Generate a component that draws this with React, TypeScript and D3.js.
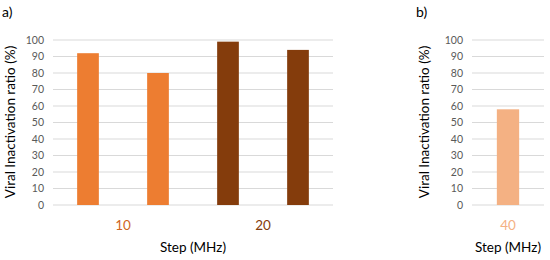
import * as d3 from "d3";

const groupsA = ["10", "20"];
const valuesA = [
  [92, 80],
  [99, 94],
];
const groupsB = ["40"];
const valuesB = [[58]];
const yTicks = [0, 10, 20, 30, 40, 50, 60, 70, 80, 90, 100];

const colorsA = ["#ED7D31", "#843C0C"];
const colorsB = ["#F4B183"];
const labelColorsA = ["#D0661E", "#843C0C"];
const labelColorsB = ["#F4B183"];

const font = "Lato, 'Open Sans', sans-serif";

function Panel({ groups, values, colors, labelColors, x0, x1, label, labelX, titleX }) {
  const y = d3.scaleLinear().domain([0, 100]).range([205, 40]);
  const xg = d3.scaleBand().domain(groups).range([x0, x1]).padding(0);
  const xi = d3
    .scaleBand()
    .domain(d3.range(values[0].length).map(String))
    .range([0, xg.bandwidth()])
    .paddingInner(0.69)
    .paddingOuter(0.345);

  return (
    <g>
      <text x={labelX} y={17} fontSize={14} fontFamily={font} fill="#000">
        {label}
      </text>
      {yTicks.map((t) => (
        <g key={t}>
          <line x1={x0} x2={x1} y1={y(t)} y2={y(t)} stroke="#D9D9D9" strokeWidth={1} />
          <text
            x={x0 - 9}
            y={y(t)}
            dy="0.35em"
            textAnchor="end"
            fontSize={10.5}
            fontFamily={font}
            fill="#595959"
          >
            {t}
          </text>
        </g>
      ))}
      {groups.map((g, gi) => (
        <g key={g}>
          {values[gi].map((v, i) => (
            <rect
              key={i}
              x={xg(g) + xi(String(i))}
              y={y(v)}
              width={xi.bandwidth()}
              height={y(0) - y(v)}
              fill={colors[gi]}
            />
          ))}
          <text
            x={xg(g) + xg.bandwidth() / 2}
            y={230}
            textAnchor="middle"
            fontSize={13.5}
            fontFamily={font}
            fill={labelColors[gi]}
          >
            {g}
          </text>
        </g>
      ))}
      <text
        x={(x0 + x1) / 2}
        y={252}
        textAnchor="middle"
        fontSize={13.5}
        fontFamily={font}
        fill="#000"
      >
        Step (MHz)
      </text>
      <text
        transform={`translate(${titleX},${122}) rotate(-90)`}
        textAnchor="middle"
        fontSize={13.5}
        fontFamily={font}
        fill="#000"
      >
        Viral Inactivation ratio (%)
      </text>
    </g>
  );
}

export default function App() {
  return (
    <svg width={550} height={260} style={{ position: "absolute", left: 0, top: 0, background: "#fff" }}>
      <Panel
        groups={groupsA}
        values={valuesA}
        colors={colorsA}
        labelColors={labelColorsA}
        x0={53}
        x1={333}
        label="a)"
        labelX={2}
        titleX={15}
      />
      <Panel
        groups={groupsB}
        values={valuesB}
        colors={colorsB}
        labelColors={labelColorsB}
        x0={472}
        x1={544}
        label="b)"
        labelX={416}
        titleX={429}
      />
    </svg>
  );
}
